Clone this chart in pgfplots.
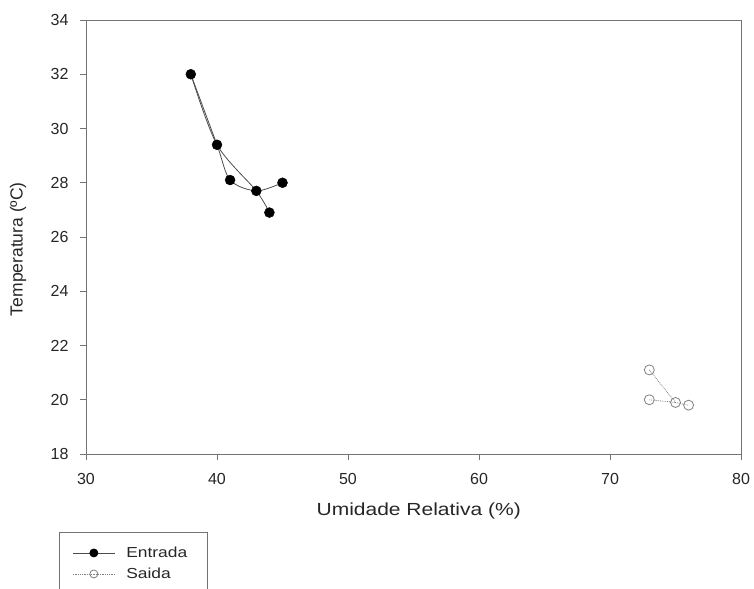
\documentclass[border=0pt]{standalone}
\usepackage{fontspec}
\setmainfont{Liberation Sans}
\newfontfamily\wide[FakeStretch=1.2]{Liberation Sans}
\usepackage{pgfplots}
\pgfplotsset{compat=1.18}
\definecolor{axc}{gray}{0.45}
\definecolor{lnc}{gray}{0.3}
\definecolor{sac}{gray}{0.5}
\begin{document}
\begin{tikzpicture}
\begin{axis}[
  scale only axis, width=655bp, height=434bp,
  xmin=30, xmax=80, ymin=18, ymax=34,
  xtick={30,40,50,60,70,80}, ytick={18,20,22,24,26,28,30,32,34},
  axis line style={draw=axc, line width=0.9bp},
  tick style={draw=axc, line width=0.9bp},
  tick align=outside, major tick length=6bp,
  xtick pos=left, ytick pos=left,
  ticklabel style={font=\fontsize{16bp}{18bp}\selectfont, text=black!85},
  xticklabel style={yshift=-10bp},
  yticklabel style={xshift=-8bp},
  /pgf/number format/assume math mode=true,
  xlabel={Umidade Relativa (\%)},
  xlabel style={font=\wide\fontsize{17.5bp}{20bp}\selectfont, text=black!85, at={(axis description cs:0.508,-0.1313)}, anchor=center},
  ylabel={Temperatura (ºC)},
  ylabel style={font=\fontsize{17.5bp}{20bp}\selectfont, text=black!85, at={(axis description cs:-0.1038,0.472)}, anchor=center},
  legend cell align=left,
  legend image code/.code={\draw[mark repeat=2,mark phase=2,#1] plot coordinates {(0bp,0bp) (21bp,0bp) (42bp,0bp)}; \path (51bp,0bp);},
  legend style={at={(axis description cs:-0.0412,-0.1797)}, anchor=north west,
    draw=axc, line width=0.9bp, inner xsep=13bp, inner ysep=10bp, row sep=0bp,
    font=\wide\fontsize{14.5bp}{16bp}\selectfont, text=black!85,
    nodes={inner ysep=4.5bp}},
]
\addlegendimage{draw=lnc, line width=0.8bp, mark=*, mark size=4bp, mark options={solid, fill=black, draw=black}}
\addlegendentry{Entrada\hspace*{5bp}}
\addlegendimage{draw=sac, densely dotted, line width=0.8bp, mark=o, mark size=4bp, mark options={solid, fill=white, draw=sac}}
\addlegendentry{Saida}
% Entrada lines
\addplot[smooth, draw=lnc, line width=0.8bp, forget plot] coordinates {(38,32.0) (40,29.4) (41,28.1) (43,27.7) (45,28.0)};
\addplot[smooth, draw=lnc, line width=0.8bp, forget plot] coordinates {(38,32.0) (40,29.4) (43,27.7) (44,26.9)};
% Saida lines
\addplot[draw=sac, densely dotted, line width=0.8bp, forget plot] coordinates {(73,21.1) (75,19.9) (76,19.8)};
\addplot[draw=sac, densely dotted, line width=0.8bp, forget plot] coordinates {(73,20.0) (75,19.9)};
% markers
\addplot[only marks, mark=*, mark size=5bp, mark options={fill=black, draw=black}, forget plot] coordinates {(38,32.0) (40,29.4) (41,28.1) (43,27.7) (44,26.9) (45,28.0)};
\addplot[only marks, mark=o, mark size=5bp, mark options={fill=white, draw=sac, line width=0.8bp}, forget plot] coordinates {(73,21.1) (73,20.0) (75,19.9) (76,19.8)};
\coordinate (sw) at (rel axis cs:0,0);
\coordinate (ne) at (rel axis cs:1,1);
\end{axis}
\pgfresetboundingbox
\path[use as bounding box] ([xshift=-86bp,yshift=-135bp]sw) rectangle ([xshift=13bp,yshift=20bp]ne);
\end{tikzpicture}
\end{document}
